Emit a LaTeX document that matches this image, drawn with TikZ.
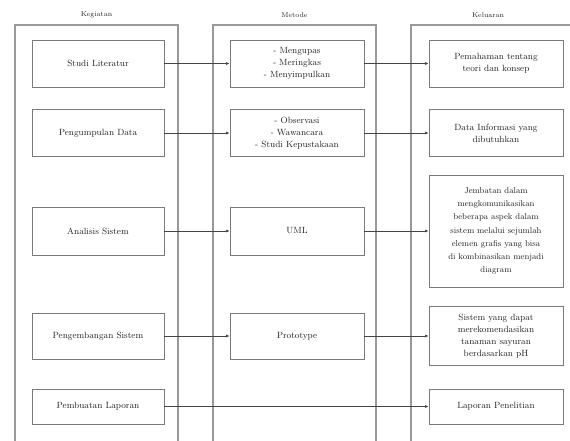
\documentclass[tikz,border=0pt]{standalone}
\usetikzlibrary{arrows.meta}
\definecolor{ln}{HTML}{7A7A7A}
\definecolor{fr}{HTML}{999999}
\definecolor{ar}{HTML}{444444}
\definecolor{tx}{HTML}{222222}
\begin{document}
\begin{tikzpicture}[x=1pt,y=-1pt,
  box/.style={draw=ln,line width=0.8pt,text=tx,align=center,font=\fontsize{9}{12}\selectfont,inner sep=2pt},
  lbox/.style={box,minimum width=132pt},
  mbox/.style={box,minimum width=134pt},
  rbox/.style={box,minimum width=134pt},
  frame/.style={draw=fr,line width=1.1pt},
  title/.style={text=tx,font=\fontsize{7}{8}\selectfont},
  arr/.style={draw=ar,line width=0.6pt,-{Latex[length=3.5pt,width=3pt]}}]
\useasboundingbox (0,0) rectangle (570,441);
% frames
\draw[frame] (15,441) -- (15,25) -- (178,25) -- (178,441);
\draw[frame] (213,441) -- (213,25) -- (376,25) -- (376,441);
\draw[frame] (411,441) -- (411,25) -- (570,25);
\node[title] (t1) at (96.5,15) {Kegiatan};
\node[title] (t2) at (294.5,15) {Metode};
\node[title] (t3) at (488,15) {Keluaran};
% left
\node[lbox,minimum height=47pt] (l1) at (98,63.5) {Studi Literatur};
\node[lbox,minimum height=47pt] (l2) at (98,133) {Pengumpulan Data};
\node[lbox,minimum height=48pt] (l3) at (98,231) {Analisis Sistem};
\node[lbox,minimum height=46pt] (l4) at (98,336) {Pengembangan Sistem};
\node[lbox,minimum height=35pt] (l5) at (98,406.5) {Pembuatan Laporan};
% middle
\node[mbox,minimum height=47pt] (m1) at (297,63.5) {- Mengupas\\- Meringkas\\- Menyimpulkan};
\node[mbox,minimum height=47pt] (m2) at (297,133) {- Observasi\\- Wawancara\\- Studi Kepustakaan};
\node[mbox,minimum height=48pt] (m3) at (297,231) {UML};
\node[mbox,minimum height=46pt] (m4) at (297,336) {Prototype};
% right
\node[rbox,minimum height=47pt] (r1) at (496,63.5) {Pemahaman tentang\\teori dan konsep};
\node[rbox,minimum height=47pt] (r2) at (496,133) {Data Informasi yang\\dibutuhkan};
\node[rbox,minimum height=112pt,font=\fontsize{8.5}{13.2}\selectfont] (r3) at (496,231) {Jembatan dalam\\mengkomunikasikan\\beberapa aspek dalam\\sistem melalui sejumlah\\elemen grafis yang bisa\\di kombinasikan menjadi\\diagram};
\node[rbox,minimum height=59pt] (r4) at (496,336) {Sistem yang dapat\\merekomendasikan\\tanaman sayuran\\berdasarkan pH};
\node[rbox,minimum height=35pt] (r5) at (496,406.5) {Laporan Penelitian};
% arrows
\draw[arr] (l1) -- (m1);
\draw[arr] (m1) -- (r1);
\draw[arr] (l2) -- (m2);
\draw[arr] (m2) -- (r2);
\draw[arr] (l3) -- (m3);
\draw[arr] (m3) -- (r3);
\draw[arr] (l4) -- (m4);
\draw[arr] (m4) -- (r4);
\draw[arr] (l5) -- (r5);
\end{tikzpicture}
\end{document}
